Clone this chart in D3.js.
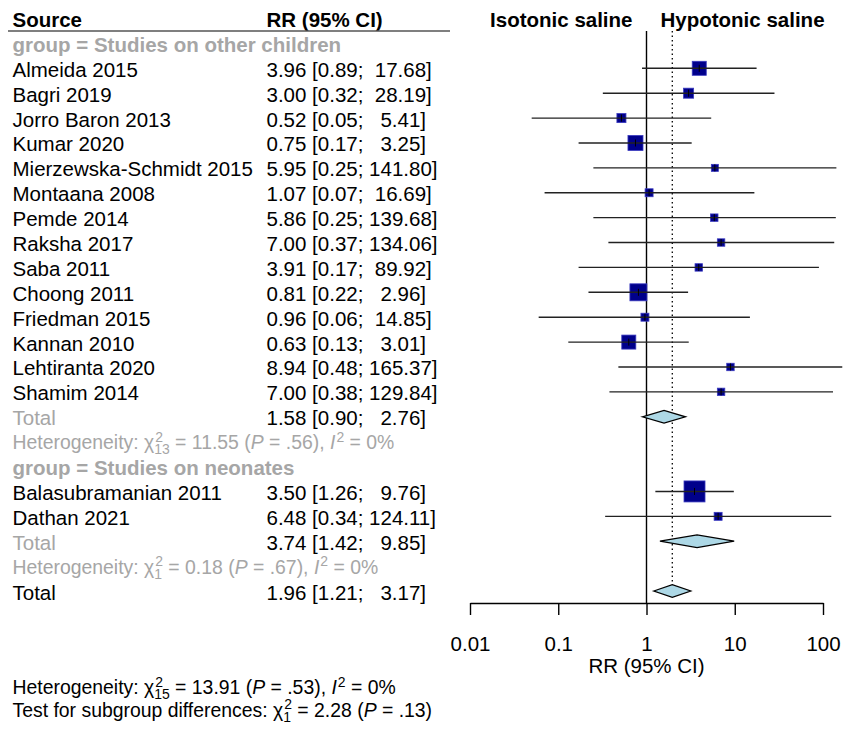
<!DOCTYPE html>
<html>
<head>
<meta charset="utf-8">
<script src="https://cdn.jsdelivr.net/npm/d3@7"></script>
<style>
  body { margin: 0; background: #fff; }
  svg text { font-family: "Liberation Sans", Arial, sans-serif; white-space: pre; }
</style>
</head>
<body>
<div id="chart"></div>
<script>
// study level data
const studyNames = ["Almeida 2015", "Bagri 2019", "Jorro Baron 2013", "Kumar 2020",
  "Mierzewska-Schmidt 2015", "Montaana 2008", "Pemde 2014", "Raksha 2017", "Saba 2011",
  "Choong 2011", "Friedman 2015", "Kannan 2010", "Lehtiranta 2020", "Shamim 2014",
  "Balasubramanian 2011", "Dathan 2021"];
const studyGroup = [0,0,0,0,0,0,0,0,0,0,0,0,0,0,1,1];
const studyRR    = [3.96, 3.00, 0.52, 0.75, 5.95, 1.07, 5.86, 7.00, 3.91, 0.81, 0.96, 0.63, 8.94, 7.00, 3.50, 6.48];
const studyLower = [0.89, 0.32, 0.05, 0.17, 0.25, 0.07, 0.25, 0.37, 0.17, 0.22, 0.06, 0.13, 0.48, 0.38, 1.26, 0.34];
const studyUpper = [17.68, 28.19, 5.41, 3.25, 141.80, 16.69, 139.68, 134.06, 89.92, 2.96, 14.85, 3.01, 165.37, 129.84, 9.76, 124.11];
const studyWeight = [9.6, 4.9, 4.0, 11.0, 2.4, 3.1, 2.7, 2.7, 2.7, 14.1, 3.1, 9.6, 2.7, 2.7, 21.5, 3.1];

// subgroups
const groupNames = ["Studies on other children", "Studies on neonates"];
const groupRR    = [1.58, 3.74];
const groupLower = [0.90, 1.42];
const groupUpper = [2.76, 9.85];
const groupChi   = ["11.55", "0.18"];
const groupDf    = ["13", "1"];
const groupP     = [".56", ".67"];
const groupI2    = ["0%", "0%"];

// overall
const totalRR = 1.96, totalLower = 1.21, totalUpper = 3.17;
const totalChi = "13.91", totalDf = "15", totalP = ".53", totalI2 = "0%";
const subgroupChi = "2.28", subgroupDf = "1", subgroupP = ".13";

const tickValues = [0.01, 0.1, 1, 10, 100];
const tickLabels = ["0.01", "0.1", "1", "10", "100"];

const W = 852, H = 729;
const FS = 20.5;   // main text
const FSH = 19.4;  // heterogeneity lines
const GREY = "#a6a6a6";

const svg = d3.select("#chart").append("svg")
  .attr("width", W).attr("height", H);

const x = d3.scaleLog().domain([0.01, 100]).range([470, 823]);
const y = d3.scaleLinear().domain([0, 21]).range([68.3, 591]);
const size = d3.scaleSqrt().domain([0, 21.5]).range([0, 21]);
const axisY = 603;
const textDy = 8.5;
const colName = 12.5, colCI = 266.5;

function fmtCI(rr, lo, up) {
  return rr.toFixed(2) + " [" + lo.toFixed(2) + "; " + up.toFixed(2).padStart(6, " ") + "]";
}

// build rows
const rows = [];
let r = 0;
groupNames.forEach((g, gi) => {
  if (gi > 0) r++;
  rows.push({type: "group", idx: r - 1, label: "group = " + g});
  studyNames.forEach((s, i) => {
    if (studyGroup[i] !== gi) return;
    rows.push({type: "study", idx: r, label: s, rr: studyRR[i], lo: studyLower[i], up: studyUpper[i], w: studyWeight[i]});
    r++;
  });
  rows.push({type: "subtotal", idx: r, label: "Total", rr: groupRR[gi], lo: groupLower[gi], up: groupUpper[gi]});
  r++;
  rows.push({type: "het", idx: r, chi: groupChi[gi], df: groupDf[gi], p: groupP[gi], i2: groupI2[gi]});
  r++;
});
rows.push({type: "total", idx: r, label: "Total", rr: totalRR, lo: totalLower, up: totalUpper});

// rich text with stacked sub/superscripts
function richText(g, x0, y0, parts, color, fs) {
  let cx = x0;
  const ss = fs * 0.72;
  parts.forEach(p => {
    if (p.sup !== undefined || p.sub !== undefined) {
      let wmax = 0;
      if (p.sup !== undefined) {
        const t = g.append("text").attr("x", cx + 1).attr("y", y0 - 7.5)
          .attr("font-size", ss).attr("fill", color).text(p.sup);
        wmax = Math.max(wmax, t.node().getComputedTextLength() + 1);
      }
      if (p.sub !== undefined) {
        const t = g.append("text").attr("x", cx).attr("y", y0 + 5)
          .attr("font-size", ss).attr("fill", color).text(p.sub);
        wmax = Math.max(wmax, t.node().getComputedTextLength());
      }
      cx += wmax;
    } else {
      const t = g.append("text").attr("x", cx).attr("y", y0)
        .attr("font-size", fs).attr("fill", color)
        .attr("font-style", p.italic ? "italic" : "normal").text(p.t);
      cx += t.node().getComputedTextLength();
    }
  });
}

function hetParts(chi, df, p, i2) {
  return [{t: "Heterogeneity: χ"}, {sup: "2", sub: df}, {t: " = " + chi + " ("},
    {t: "P", italic: true}, {t: " = " + p + "), "}, {t: "I", italic: true}, {sup: "2"}, {t: " = " + i2}];
}

// header
const hdr = svg.append("g");
hdr.append("text").attr("x", colName).attr("y", y(-2) + textDy)
  .attr("font-size", FS).attr("font-weight", "bold").text("Source");
hdr.append("text").attr("x", colCI).attr("y", y(-2) + textDy)
  .attr("font-size", FS).attr("font-weight", "bold").text("RR (95% CI)");
hdr.append("line").attr("x1", 8).attr("x2", 450).attr("y1", 31).attr("y2", 31)
  .attr("stroke", "#555").attr("stroke-width", 1.5);
hdr.append("text").attr("x", x(1) - 14).attr("y", y(-2) + textDy)
  .attr("text-anchor", "end").attr("font-size", FS).attr("font-weight", "bold").text("Isotonic saline");
hdr.append("text").attr("x", x(1) + 14).attr("y", y(-2) + textDy)
  .attr("font-size", FS).attr("font-weight", "bold").text("Hypotonic saline");

// text columns
const txt = svg.append("g");
rows.forEach(d => {
  const yy = y(d.idx) + textDy;
  if (d.type === "group") {
    txt.append("text").attr("x", colName).attr("y", yy).attr("font-size", FS)
      .attr("font-weight", "bold").attr("fill", GREY).text(d.label);
  } else if (d.type === "het") {
    richText(txt, colName, yy - 1, hetParts(d.chi, d.df, d.p, d.i2), GREY, FSH);
  } else {
    txt.append("text").attr("x", colName).attr("y", yy).attr("font-size", FS)
      .attr("fill", d.type === "subtotal" ? GREY : "#000").text(d.label);
    txt.append("text").attr("x", colCI).attr("y", yy).attr("font-size", FS)
      .attr("fill", "#000").text(fmtCI(d.rr, d.lo, d.up));
  }
});

// reference lines
svg.append("line").attr("x1", x(1)).attr("x2", x(1)).attr("y1", 31).attr("y2", axisY)
  .attr("stroke", "#000").attr("stroke-width", 1.4);
svg.append("line").attr("x1", x(totalRR)).attr("x2", x(totalRR))
  .attr("y1", 31).attr("y2", y(21) - 6.3)
  .attr("stroke", "#000").attr("stroke-width", 1.3).attr("stroke-dasharray", "1.5,3");

// study marks
const studies = rows.filter(d => d.type === "study");
const sg = svg.append("g");
sg.selectAll("rect").data(studies).enter().append("rect")
  .attr("x", d => x(d.rr) - size(d.w) / 2)
  .attr("y", d => y(d.idx) - size(d.w) / 2)
  .attr("width", d => size(d.w)).attr("height", d => size(d.w))
  .attr("fill", "#00008b").attr("stroke", "#3a3ac0").attr("stroke-width", 0.8);
sg.selectAll("line.ci").data(studies).enter().append("line").attr("class", "ci")
  .attr("x1", d => x(d.lo)).attr("x2", d => x(d.up))
  .attr("y1", d => y(d.idx)).attr("y2", d => y(d.idx))
  .attr("stroke", "#222").attr("stroke-width", 1.4);
sg.selectAll("line.pt").data(studies).enter().append("line").attr("class", "pt")
  .attr("x1", d => x(d.rr)).attr("x2", d => x(d.rr))
  .attr("y1", d => y(d.idx) - 3.5).attr("y2", d => y(d.idx) + 3.5)
  .attr("stroke", "#000").attr("stroke-width", 1);

// diamonds
const pooled = rows.filter(d => d.type === "subtotal" || d.type === "total");
svg.append("g").selectAll("path").data(pooled).enter().append("path")
  .attr("d", d => {
    const c = y(d.idx), h = 6.3;
    return "M" + x(d.lo) + "," + c + "L" + x(d.rr) + "," + (c - h) +
      "L" + x(d.up) + "," + c + "L" + x(d.rr) + "," + (c + h) + "Z";
  })
  .attr("fill", "#add8e6").attr("stroke", "#000").attr("stroke-width", 1.3);

// axis
const axis = d3.axisBottom(x).tickValues(tickValues)
  .tickFormat((d, i) => tickLabels[i]).tickSize(12).tickSizeOuter(0).tickPadding(21);
const ax = svg.append("g").attr("transform", "translate(0," + axisY + ")").call(axis);
ax.select(".domain").attr("stroke", "#000").attr("stroke-width", 1.4);
ax.selectAll(".tick line").attr("stroke", "#000").attr("stroke-width", 1.4);
ax.selectAll(".tick text").attr("font-size", FS).attr("font-family", "Liberation Sans, Arial, sans-serif").attr("fill", "#000");
svg.append("text").attr("x", x(1)).attr("y", 673).attr("text-anchor", "middle")
  .attr("font-size", FS).text("RR (95% CI)");

// bottom notes
const notes = svg.append("g");
richText(notes, colName, 694, hetParts(totalChi, totalDf, totalP, totalI2), "#000", FSH);
richText(notes, colName, 716.5, [{t: "Test for subgroup differences: χ"}, {sup: "2", sub: subgroupDf},
  {t: " = " + subgroupChi + " ("}, {t: "P", italic: true}, {t: " = " + subgroupP + ")"}], "#000", FSH);
</script>
</body>
</html>
